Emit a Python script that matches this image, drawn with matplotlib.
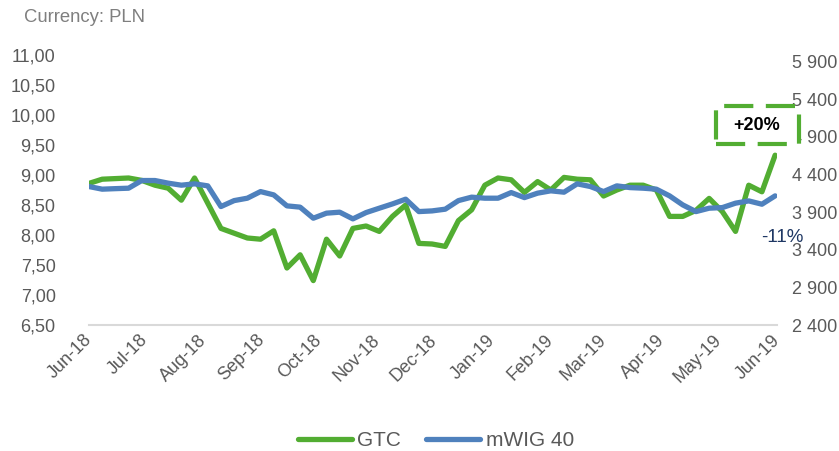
import matplotlib
matplotlib.use('Agg')
import matplotlib.pyplot as plt
import matplotlib.dates as mdates
from matplotlib.patches import Rectangle
import pandas as pd

plt.rcParams['font.family'] = ['Liberation Sans', 'DejaVu Sans']

# weekly closes, Jun-18 .. end of May-19
dates = pd.date_range('2018-06-01', periods=53, freq='7D')

gtc = [8.86, 8.93, 8.94, 8.95, 8.91, 8.83, 8.78, 8.58, 8.95, 8.53,
       8.11, 8.03, 7.95, 7.93, 8.07, 7.45, 7.67, 7.24, 7.93, 7.65,
       8.11, 8.15, 8.06, 8.31, 8.50, 7.86, 7.85, 7.81, 8.24, 8.42,
       8.83, 8.95, 8.92, 8.71, 8.89, 8.75, 8.96, 8.93, 8.92, 8.65,
       8.75, 8.83, 8.83, 8.75, 8.31, 8.31, 8.41, 8.61, 8.39, 8.06,
       8.83, 8.72, 9.33]

mwig = [4241, 4206, 4213, 4219, 4321, 4321, 4286, 4259, 4277, 4250,
        3975, 4054, 4086, 4174, 4130, 3984, 3967, 3820, 3887, 3900,
        3811, 3895, 3953, 4010, 4073, 3908, 3917, 3940, 4054, 4100,
        4086, 4086, 4161, 4094, 4153, 4184, 4166, 4277, 4241, 4174,
        4250, 4227, 4219, 4206, 4117, 3997, 3908, 3953, 3961, 4020,
        4050, 4006, 4117]

left_ticks = [6.5, 7.0, 7.5, 8.0, 8.5, 9.0, 9.5, 10.0, 10.5, 11.0]
right_ticks = [2400, 2900, 3400, 3900, 4400, 4900, 5400, 5900]

green = '#52ad32'
blue = '#4f81bd'
grey = '#595959'

fig = plt.figure(figsize=(8.39, 4.51), dpi=100)
ax = fig.add_axes([89 / 839, 1 - 325 / 451, 688 / 839, 270 / 451])
ax2 = ax.twinx()

ax.plot(dates, gtc, color=green, lw=3.8, solid_joinstyle='round',
        solid_capstyle='round', label='GTC')
ax2.plot(dates, mwig, color=blue, lw=3.8, solid_joinstyle='round',
         solid_capstyle='round', label='mWIG 40')

ax.set_xlim(pd.Timestamp('2018-06-01'), pd.Timestamp('2019-06-01'))
ax.set_ylim(6.5, 11.0)
ax2.set_ylim(2400, 5990)

ax.set_yticks(left_ticks)
ax.set_yticklabels([('%.2f' % t).replace('.', ',') for t in left_ticks])
ax2.set_yticks(right_ticks)
ax2.set_yticklabels([('{:,}'.format(t)).replace(',', ' ') for t in right_ticks])

ax.xaxis.set_major_locator(mdates.MonthLocator())
ax.xaxis.set_major_formatter(mdates.DateFormatter('%b-%y'))
for lab in ax.get_xticklabels():
    lab.set_rotation(45)
    lab.set_ha('right')
    lab.set_va('center')
    lab.set_rotation_mode('anchor')

for a in (ax, ax2):
    for s in a.spines.values():
        s.set_visible(False)
    a.tick_params(length=0, labelsize=13, labelcolor=grey)
ax.spines['bottom'].set_visible(True)
ax.spines['bottom'].set_color('#d9d9d9')
ax.spines['bottom'].set_linewidth(1.5)
ax.tick_params(axis='x', pad=9)
ax.tick_params(axis='y', pad=24)
ax2.tick_params(axis='y', pad=11)

fig.text(24 / 839, 1 - 17 / 451, 'Currency: PLN', va='center',
         color='#7f7f7f', fontsize=13.3)

h1, l1 = ax.get_legend_handles_labels()
h2, l2 = ax2.get_legend_handles_labels()
fig.legend(h1 + h2, l1 + l2, loc='center', bbox_to_anchor=(436 / 839, 1 - 441 / 451),
           ncol=2, frameon=False, fontsize=15, handlelength=2.6,
           handletextpad=0.25, columnspacing=1.2, labelcolor=grey)

# annotations
box = Rectangle((716 / 839, 1 - 144 / 451), 83 / 839, 38 / 451,
                transform=fig.transFigure, facecolor='white', edgecolor=green,
                lw=3, linestyle=(0, (7, 3)), zorder=10)
fig.add_artist(box)
fig.text(757 / 839, 1 - 126 / 451, '+20%', ha='center', va='center',
         fontsize=13, fontweight='bold', color='black', zorder=11)
fig.text(782 / 839, 1 - 237 / 451, '-11%', ha='center', va='center',
         fontsize=13.5, color='#1f3864', zorder=11)

fig.savefig('out.png', dpi=100)
